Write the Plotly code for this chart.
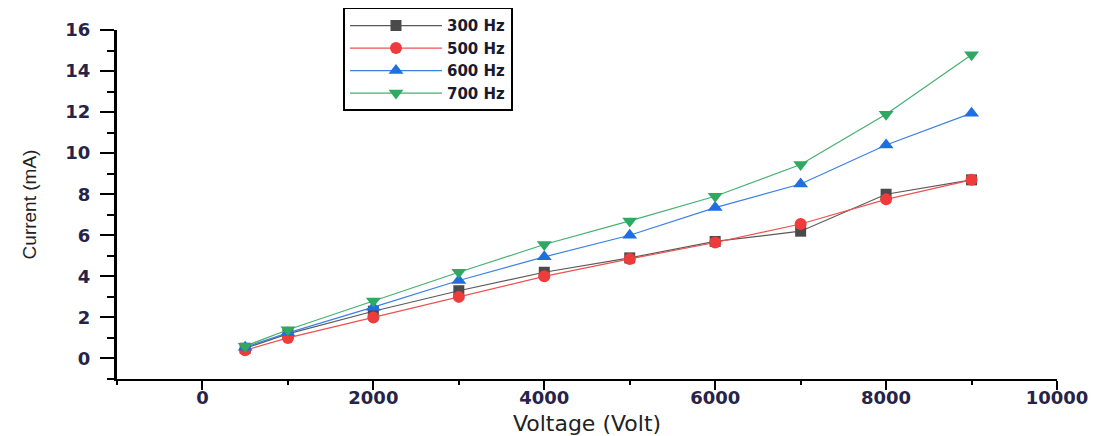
import plotly.graph_objects as go

voltage = [500, 1000, 2000, 3000, 4000, 5000, 6000, 7000, 8000, 9000]
cur_300 = [0.5, 1.2, 2.3, 3.3, 4.2, 4.9, 5.7, 6.2, 8.0, 8.7]
cur_500 = [0.4, 1.0, 2.0, 3.0, 4.0, 4.85, 5.65, 6.55, 7.75, 8.7]
cur_600 = [0.55, 1.25, 2.5, 3.8, 4.95, 6.0, 7.35, 8.5, 10.4, 11.95]
cur_700 = [0.6, 1.4, 2.8, 4.2, 5.55, 6.7, 7.9, 9.45, 11.9, 14.8]

x_ticks = [0, 2000, 4000, 6000, 8000, 10000]
x_ticktext = ["0", "2000", "4000", "6000", "8000", "10000"]
y_ticks = [0, 2, 4, 6, 8, 10, 12, 14, 16]

series = [
    ("300 Hz", cur_300, "#4a4a4a", "#5a5a5a", "square", 11),
    ("500 Hz", cur_500, "#ee3b3b", "#f05050", "circle", 12),
    ("600 Hz", cur_600, "#1f6fe0", "#3a80e6", "triangle-up", 13),
    ("700 Hz", cur_700, "#2fa862", "#45b070", "triangle-down", 13),
]

fig = go.Figure()
for name, ys, col, lcol, sym, sz in series:
    fig.add_trace(go.Scatter(
        x=voltage, y=ys, name=name, mode="lines+markers",
        line=dict(color=lcol, width=1.2),
        marker=dict(symbol=sym, size=sz, color=col, line=dict(width=0)),
    ))

# page body has an 8px default margin: the figure is sized so it still fits the window
W, H = 1090, 428
tickfont = dict(family="DejaVu Sans", size=18, color="#262347", weight="bold")
fig.update_layout(
    width=W, height=H,
    margin=dict(l=109, r=41, t=22, b=57, autoexpand=False),
    plot_bgcolor="white", paper_bgcolor="white",
    showlegend=True,
    legend=dict(
        x=0.2404, y=1.065, xanchor="left", yanchor="top",
        xref="paper", yref="paper",
        bordercolor="black", borderwidth=2, bgcolor="white",
        font=dict(family="DejaVu Sans", size=15, color="#1a1a2e", weight="bold"),
        tracegroupgap=0, itemwidth=92,
    ),
    xaxis=dict(
        range=[-1000, 10000], tickvals=x_ticks, ticktext=x_ticktext,
        ticks="outside", ticklen=9, tickwidth=2, tickcolor="black",
        minor=dict(dtick=1000, tick0=0, ticks="outside", ticklen=4, tickwidth=2, tickcolor="black"),
        showline=True, linecolor="black", linewidth=2, showgrid=False, zeroline=False,
        tickfont=tickfont, ticklabelstandoff=-8, ticklabeloverflow="allow",
        title=dict(text="Voltage (Volt)", font=dict(family="DejaVu Sans", size=22, color="#222222"), standoff=14),
    ),
    yaxis=dict(
        range=[-1, 16], tickvals=y_ticks,
        ticks="outside", ticklen=14, tickwidth=2, tickcolor="black",
        minor=dict(dtick=1, tick0=0, ticks="outside", ticklen=7, tickwidth=2, tickcolor="black"),
        showline=True, linecolor="black", linewidth=3, showgrid=False, zeroline=False,
        tickfont=tickfont, ticklabelstandoff=6,
        title=dict(text="Current (mA)", font=dict(family="Liberation Sans", size=19, color="#222222"), standoff=24),
    ),
)

fig.write_html("out.html")
